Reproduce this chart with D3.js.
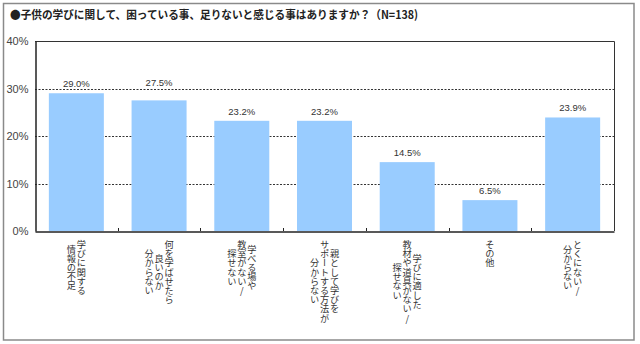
<!DOCTYPE html>
<html><head><meta charset="utf-8">
<script src="https://cdn.jsdelivr.net/npm/d3@7"></script>
<style>
html,body{margin:0;padding:0;background:#fff;}
svg{display:block;}
</style></head>
<body>
<script>
const title = "●子供の学びに関して、困っている事、足りないと感じる事はありますか？（N=138)";
const categories = [
  ["学びに関する","情報の不足"],
  ["何を学ばせたら","良いのか","分からない"],
  ["学べる場や","教室がない/","探せない"],
  ["親として学びを","サポートする方法が","分からない"],
  ["学びに適した","教材や道具がない/","探せない"],
  ["その他"],
  ["とくにない/","分からない"]
];
const values = [29.0, 27.5, 23.2, 23.2, 14.5, 6.5, 23.9];
const yTicks = [0, 10, 20, 30, 40];

const W = 640, H = 344;
const m = {left: 35, right: 614, top: 41, bottom: 231};
const svg = d3.select("body").append("svg").attr("width", W).attr("height", H);

// outer frame
svg.append("rect").attr("x", 3.5).attr("y", 3.5).attr("width", 630.5).attr("height", 336.5)
  .attr("fill", "none").attr("stroke", "#8a8a8a").attr("stroke-width", 1.5);

svg.append("text").attr("x", 10).attr("y", 19)
  .attr("font-family", "'Noto Sans CJK JP', sans-serif").attr("font-weight", "bold")
  .attr("font-size", 11.5).attr("fill", "#222")
  .attr("textLength", 408).attr("lengthAdjust", "spacingAndGlyphs")
  .text(title);

const x = d3.scaleBand().domain(d3.range(categories.length)).range([m.left, m.right]).paddingInner(0.335).paddingOuter(0.1675);
const xb = d3.scaleBand().domain(d3.range(categories.length)).range([m.left, m.right]);
const y = d3.scaleLinear().domain([0, 40]).range([m.bottom, m.top]);

const gridVals = yTicks.filter(t => t > 0 && t < 40);
// grid
svg.append("g").selectAll("line").data(gridVals).join("line")
  .attr("x1", m.left).attr("x2", m.right)
  .attr("y1", d => Math.round(y(d)) + 0.5).attr("y2", d => Math.round(y(d)) + 0.5)
  .attr("stroke", "#333").attr("stroke-width", 1).attr("stroke-dasharray", "2,1.5");

// bars
svg.append("g").selectAll("rect").data(values).join("rect")
  .attr("x", (d, i) => x(i)).attr("width", x.bandwidth())
  .attr("y", d => y(d)).attr("height", d => y(0) - y(d))
  .attr("fill", "#99CCFF");

// plot border top/right
svg.append("path").attr("d", `M${m.left},${m.top + 0.5}H${m.right + 0.5}V${m.bottom}`)
  .attr("fill", "none").attr("stroke", "#333").attr("stroke-width", 1);

// axes
const yAxis = d3.axisLeft(y).tickValues(yTicks).tickFormat(d => d + "%").tickSize(0).tickPadding(7);
const gy = svg.append("g").attr("transform", `translate(${m.left + 0.5},0)`).call(yAxis);
gy.select(".domain").attr("stroke", "#222").attr("stroke-width", 1.5);
gy.selectAll("text").attr("font-family", "'Liberation Sans', Arial, sans-serif").attr("font-size", 11).attr("fill", "#444");

const xAxis = d3.axisBottom(xb).tickValues([]).tickSize(0);
const gx = svg.append("g").attr("transform", `translate(0,${m.bottom + 0.5})`).call(xAxis);
gx.select(".domain").attr("stroke", "#222").attr("stroke-width", 1.5);
// inner ticks at band boundaries
svg.append("g").selectAll("line").data(d3.range(1, categories.length)).join("line")
  .attr("x1", d => Math.round(xb(d)) + 0.5).attr("x2", d => Math.round(xb(d)) + 0.5)
  .attr("y1", m.bottom).attr("y2", m.bottom - 3)
  .attr("stroke", "#222");

// value labels (lifted above a gridline if they would sit on it)
function labelY(d) {
  let b = y(d) - 6;
  gridVals.forEach(g => {
    const gy = y(g);
    if (gy > b - 7 && gy < b) b = gy - 2.5;
  });
  return b;
}
svg.append("g").selectAll("text").data(values).join("text")
  .attr("x", (d, i) => x(i) + x.bandwidth() / 2).attr("y", labelY)
  .attr("text-anchor", "middle")
  .attr("font-family", "'Liberation Sans', Arial, sans-serif").attr("font-size", 9.5).attr("fill", "#333")
  .text(d => d.toFixed(1) + "%");

// vertical category labels
const pitch = 9.2, colGap = 10, top0 = 240;
const gl = svg.append("g");
categories.forEach((lines, i) => {
  const cx = xb(i) + xb.bandwidth() / 2;
  const longest = d3.max(lines, l => l.length);
  const cy = top0 + longest * pitch / 2;
  const n = lines.length;
  lines.forEach((l, j) => {
    const lx = cx + ((n - 1) / 2 - j) * colGap;
    gl.append("text")
      .attr("x", lx).attr("y", cy)
      .attr("text-anchor", "middle")
      .style("writing-mode", "vertical-rl")
      .style("text-orientation", "upright")
      .attr("font-family", "'Noto Sans CJK JP', sans-serif")
      .attr("font-size", 9.2).attr("fill", "#333")
      .text(l);
  });
});
</script>
</body></html>
